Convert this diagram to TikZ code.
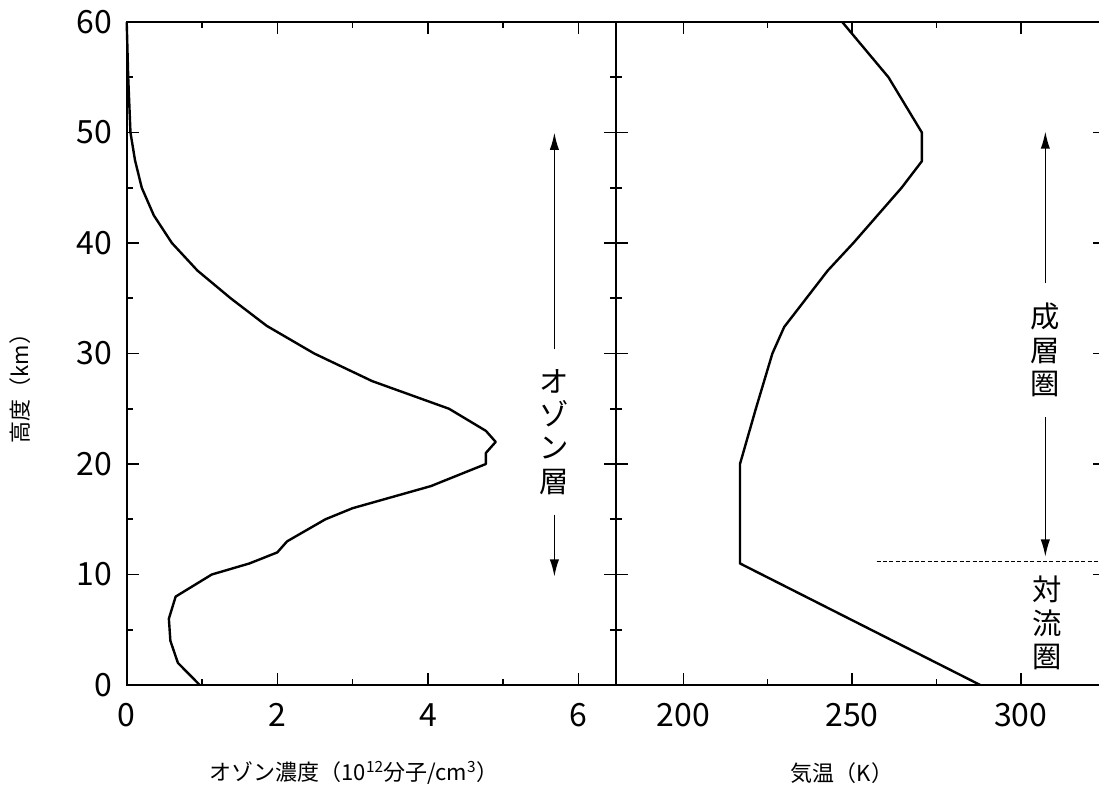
\documentclass[tikz,border=0pt]{standalone}
\usepackage{fontspec}
\setmainfont{Noto Sans CJK JP}
\usetikzlibrary{arrows.meta}

\tikzset{
  frame/.style={line width=1.6pt},
  prof/.style={line width=1.8pt, line join=round},
  tk/.style={line width=1.2pt},
  numlab/.style={font=\fontsize{24}{26}\selectfont, inner sep=0pt},
  axlab/.style={font=\fontsize{16.5}{18}\selectfont, inner sep=0pt},
  layerlab/.style={font=\fontsize{22}{25}\selectfont, align=center, inner xsep=0pt, inner ysep=15pt},
  layerarr/.style={-{Latex[length=13pt,width=7pt]}, line width=1.2pt},
}

\begin{document}
\begin{tikzpicture}[x=0.75pt,y=0.75pt]
\useasboundingbox (0,0) rectangle (1099,785);

% frame of both panels
\draw[frame] (1105,763) -- (126.7,763) -- (126.7,100) -- (1105,100);
\draw[frame] (616.2,100) -- (616.2,763);
\draw[frame] (1105,100) -- (1105,763);

% left panel: ozone concentration
\begin{scope}[shift={(95.025pt,75pt)}, x=56.475pt, y=8.2875pt]
  \foreach \u in {2,4,6} {
    \draw[tk] (\u,0) -- ++(0pt,9pt);
    \draw[tk] (\u,60) -- ++(0pt,-9pt);
  }
  \foreach \u in {1,3,5} {
    \draw[tk] (\u,0) -- ++(0pt,4.5pt);
    \draw[tk] (\u,60) -- ++(0pt,-4.5pt);
  }
  \foreach \u in {0,2,4,6}
    \node[numlab, anchor=north] (ox\u) at ([yshift=-13.5pt]\u,0) {\u};
  \foreach \k in {10,20,...,50} {
    \draw[tk] (0,\k) -- ++(9pt,0pt);
    \draw[tk] (6.5,\k) -- ++(-9pt,0pt);
  }
  \foreach \k in {5,15,...,55} {
    \draw[tk] (0,\k) -- ++(4.5pt,0pt);
    \draw[tk] (6.5,\k) -- ++(-4.5pt,0pt);
  }
  \foreach \k in {0,10,...,60}
    \node[numlab, anchor=east] (h\k) at ([xshift=-11pt]0,\k) {\k};

  \draw[prof] (0.97,0) -- (0.68,2) -- (0.58,4) -- (0.56,6) -- (0.65,8)
    -- (1.13,10) -- (1.63,11) -- (2.0,12) -- (2.13,13) -- (2.64,15)
    -- (3.0,16) -- (4.04,18) -- (4.77,20) -- (4.77,21) -- (4.9,22)
    -- (4.77,23) -- (4.28,25) -- (3.26,27.5) -- (2.49,30) -- (1.86,32.5)
    -- (1.38,35) -- (0.94,37.5) -- (0.6,40) -- (0.36,42.5) -- (0.2,45)
    -- (0.11,47.5) -- (0.05,50) -- (0.02,55) -- (0,60);

  \node[layerlab] (ozone) at (5.68,22.9) {オ\\ゾ\\ン\\層};
  \coordinate (ozonetop) at (5.68,50);
  \coordinate (ozonebot) at (5.68,9.8);
  \draw[layerarr] (ozone.north) -- (ozonetop);
  \draw[layerarr] (ozone.south) -- (ozonebot);
\end{scope}

% right panel: temperature
\begin{scope}[shift={(6.375pt,75pt)}, x=2.5305pt, y=8.2875pt]
  \foreach \t in {200,250,300} {
    \draw[tk] (\t,0) -- ++(0pt,9pt);
    \draw[tk] (\t,60) -- ++(0pt,-9pt);
    \node[numlab, anchor=north] (tx\t) at ([yshift=-13.5pt]\t,0) {\t};
  }
  \foreach \t in {225,275} {
    \draw[tk] (\t,0) -- ++(0pt,4.5pt);
    \draw[tk] (\t,60) -- ++(0pt,-4.5pt);
  }
  \foreach \k in {10,20,...,50} {
    \draw[tk] (180,\k) -- ++(9pt,0pt);
    \draw[tk] (325,\k) -- ++(-9pt,0pt);
  }
  \foreach \k in {5,15,...,55} {
    \draw[tk] (180,\k) -- ++(4.5pt,0pt);
    \draw[tk] (325,\k) -- ++(-4.5pt,0pt);
  }

  \draw[prof] (288,0) -- (216.8,11) -- (216.8,20) -- (221.5,25) -- (226.4,30)
    -- (229.9,32.4) -- (242.8,37.5) -- (250.4,40) -- (264.7,45) -- (270.7,47.4)
    -- (270.7,50) -- (260.8,55) -- (247.1,60);

  \draw[line width=0.8pt, dash pattern=on 3pt off 1.8pt] (257.3,11.2) -- (325,11.2);

  \node[layerlab] (strato) at (307.3,30.3) {成\\層\\圏};
  \coordinate (stratotop) at (307.3,50.1);
  \coordinate (stratobot) at (307.3,11.6);
  \draw[layerarr] (strato.north) -- (stratotop);
  \draw[layerarr] (strato.south) -- (stratobot);
  \node[layerlab] (tropo) at (307.8,5.6) {対\\流\\圏};
\end{scope}

% axis titles
\node[axlab] (xozone) at (354,12) {オゾン濃度（10\textsuperscript{12}分子/cm\textsuperscript{3}）};
\node[axlab] (xtemp) at (842,12) {気温（K）};
\node[axlab, rotate=90] (yalt) at (20,402) {高度（km）};
\end{tikzpicture}
\end{document}
